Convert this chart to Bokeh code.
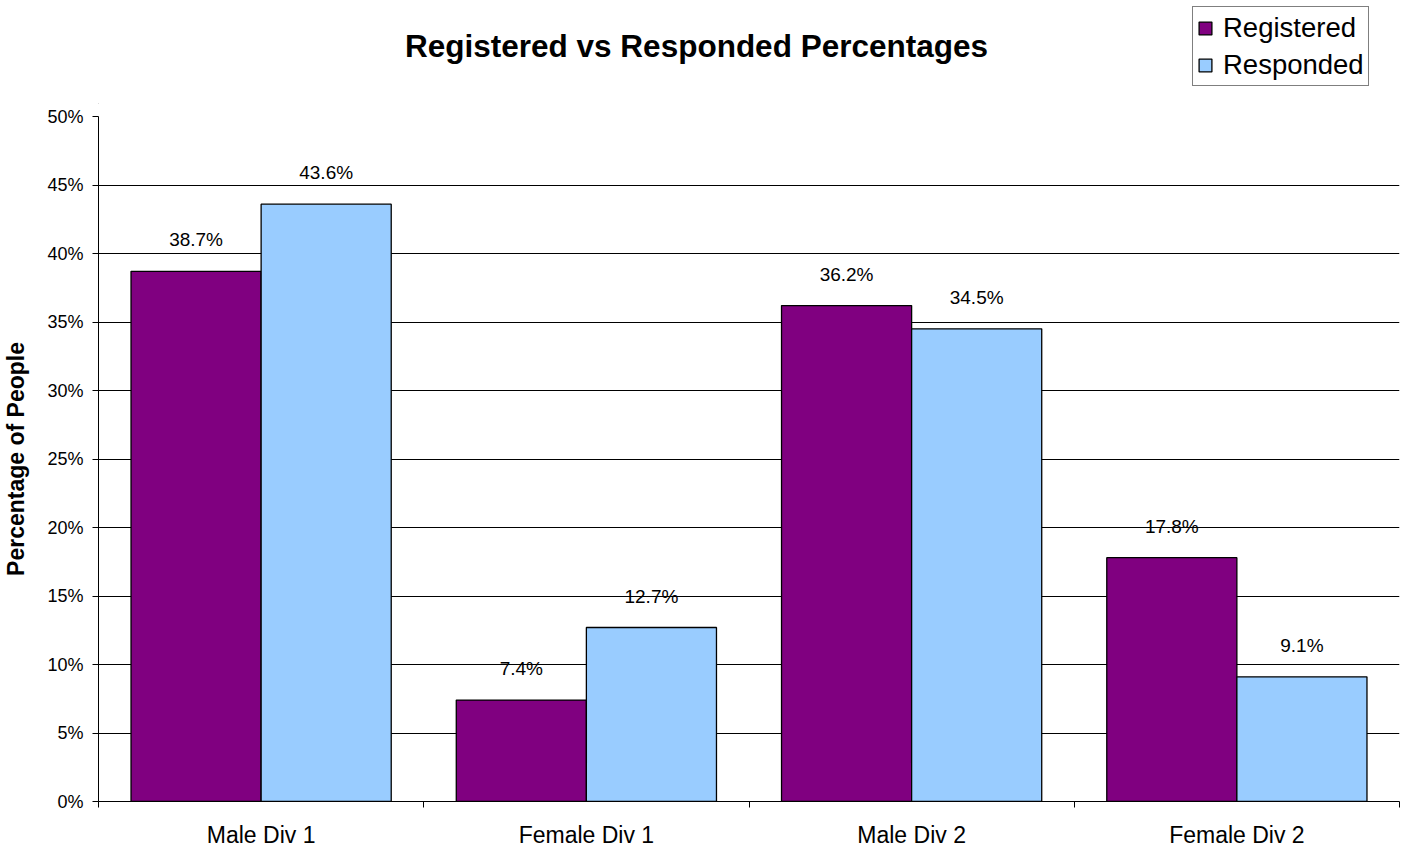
from bokeh.plotting import figure
from bokeh.layouts import column
from bokeh.models import (Range1d, FixedTicker, NumeralTickFormatter, ColumnDataSource,
                          LabelSet, Label, Legend, LegendItem)
from bokeh.core.properties import value
from bokeh.embed import file_html
from bokeh.resources import INLINE

categories = ["Male Div 1", "Female Div 1", "Male Div 2", "Female Div 2"]
registered = [0.387, 0.074, 0.362, 0.178]
responded = [0.436, 0.127, 0.345, 0.091]
series_names = ["Registered", "Responded"]
y_ticks = [0.0, 0.05, 0.10, 0.15, 0.20, 0.25, 0.30, 0.35, 0.40, 0.45, 0.50]
title_text = "Registered vs Responded Percentages"

FONT = "Liberation Sans"
colors = ["#800080", "#99CCFF"]

HEAD_H = 104
FRAME_L = 97
FRAME_W = 1301

# ---------- header (title + legend); its frame is aligned with the chart frame ----------
head = figure(frame_width=FRAME_W, height=HEAD_H, output_backend="svg", toolbar_location=None,
              x_range=Range1d(FRAME_L, FRAME_L + FRAME_W), y_range=Range1d(0, HEAD_H),
              min_border_left=FRAME_L, min_border_right=10,
              min_border_top=0, min_border_bottom=0)
head.axis.visible = False
head.grid.visible = False
head.outline_line_color = None

# legend swatches (bars kept outside the visible header range)
hr1 = head.vbar(x=[0], top=[-100], bottom=[-110], width=1,
                fill_color=colors[0], line_color="black", line_width=1.3)
hr2 = head.vbar(x=[0], top=[-100], bottom=[-110], width=1,
                fill_color=colors[1], line_color="black", line_width=1.3)

head.add_layout(Label(x=695, y=HEAD_H - 45, text=title_text,
                      text_align="center", text_baseline="middle", text_font=FONT,
                      text_font_size="31.5px", text_font_style="bold", text_color="black"))

legend = Legend(items=[LegendItem(label=series_names[0], renderers=[hr1]),
                       LegendItem(label=series_names[1], renderers=[hr2])],
                location=(1191 - FRAME_L, HEAD_H - 86), orientation="vertical",
                label_text_font=FONT, label_text_font_size="27.5px", label_text_color="black",
                glyph_width=16, glyph_height=16, label_standoff=10, label_height=33,
                padding=4, spacing=4, margin=0,
                border_line_color="black", border_line_width=1,
                background_fill_color="white", background_fill_alpha=1)
head.add_layout(legend)

# ---------- main chart ----------
centers = [i + 0.5 for i in range(len(categories))]

p = figure(frame_width=FRAME_W, frame_height=685, output_backend="svg", toolbar_location=None,
           x_range=Range1d(0, len(categories)), y_range=Range1d(0, 0.5),
           min_border_left=FRAME_L, min_border_right=10, min_border_top=12, min_border_bottom=40)
p.outline_line_color = None
p.background_fill_color = "white"
p.border_fill_color = "white"

src_reg = ColumnDataSource(dict(x=[c - 0.2 for c in centers], top=registered,
                                lab=[f"{v*100:.1f}%" for v in registered]))
src_res = ColumnDataSource(dict(x=[c + 0.2 for c in centers], top=responded,
                                lab=[f"{v*100:.1f}%" for v in responded]))

r1 = p.vbar(x="x", top="top", width=0.4, bottom=0, source=src_reg,
            fill_color=colors[0], line_color="black", line_width=1.3)
r2 = p.vbar(x="x", top="top", width=0.4, bottom=0, source=src_res,
            fill_color=colors[1], line_color="black", line_width=1.3)

for s in (src_reg, src_res):
    p.add_layout(LabelSet(x="x", y="top", text="lab", source=s, text_align="center",
                          text_baseline="alphabetic", y_offset=25,
                          text_font=value(FONT), text_font_size="19px", text_color="black"))

p.xaxis.ticker = FixedTicker(ticks=centers, minor_ticks=list(range(len(categories) + 1)))
p.xaxis.major_label_overrides = {c: lab for c, lab in zip(centers, categories)}
p.xaxis.major_tick_out = 0
p.xaxis.major_tick_in = 0
p.xaxis.minor_tick_out = 6
p.xaxis.minor_tick_in = 0
p.xaxis.minor_tick_line_color = "black"
p.xaxis.axis_line_color = "black"
p.xaxis.major_label_standoff = 14
p.xaxis.major_label_text_font = FONT
p.xaxis.major_label_text_font_size = "23px"
p.xaxis.major_label_text_color = "black"

p.yaxis.ticker = FixedTicker(ticks=y_ticks)
p.yaxis.formatter = NumeralTickFormatter(format="0%")
p.yaxis.major_tick_out = 6
p.yaxis.major_tick_in = 0
p.yaxis.minor_tick_line_color = None
p.yaxis.major_tick_line_color = "black"
p.yaxis.axis_line_color = "black"
p.yaxis.major_label_standoff = 9
p.yaxis.major_label_text_font = FONT
p.yaxis.major_label_text_font_size = "18px"
p.yaxis.major_label_text_color = "black"
p.yaxis.axis_label = "Percentage of People"
p.yaxis.axis_label_text_font = FONT
p.yaxis.axis_label_text_font_style = "bold"
p.yaxis.axis_label_text_font_size = "23px"
p.yaxis.axis_label_text_color = "black"
p.yaxis.axis_label_standoff = 15

p.xgrid.grid_line_color = None
p.ygrid.ticker = FixedTicker(ticks=y_ticks)
p.ygrid.grid_line_color = "black"
p.ygrid.grid_line_width = 1

layout = column(head, p, spacing=0)
open("out.html", "w").write(file_html(layout, INLINE))
